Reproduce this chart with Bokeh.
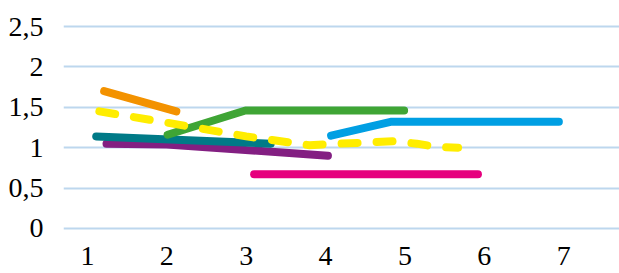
from bokeh.plotting import figure
from bokeh.models import Range1d, FixedTicker, CustomJSTickFormatter
from bokeh.embed import file_html
from bokeh.resources import INLINE

# data
x_ticks = [1, 2, 3, 4, 5, 6, 7]
y_ticks = [0, 0.5, 1, 1.5, 2, 2.5]

purple_x = [1.24, 2.0, 4.03]
purple_y = [1.05, 1.04, 0.90]
teal_x = [1.11, 3.31]
teal_y = [1.14, 1.05]
green_x = [2.01, 2.99, 4.99]
green_y = [1.16, 1.46, 1.46]
orange_x = [1.21, 2.12]
orange_y = [1.70, 1.45]
pink_x = [3.10, 5.92]
pink_y = [0.67, 0.67]
blue_x = [4.07, 4.82, 6.94]
blue_y = [1.15, 1.32, 1.32]
yellow_x = [1.15, 2.0, 3.0, 3.8, 4.14, 4.47, 4.85, 5.15, 5.40, 5.67]
yellow_y = [1.45, 1.31, 1.14, 1.03, 1.05, 1.06, 1.08, 1.05, 1.01, 1.00]

p = figure(width=619, height=273, output_backend="svg", toolbar_location=None,
           x_range=Range1d(0.698, 7.704), y_range=Range1d(-0.05, 2.55),
           min_border_left=63, min_border_right=0, min_border_top=22, min_border_bottom=41)
p.outline_line_color = None
p.background_fill_color = "white"
p.border_fill_color = "white"

p.xgrid.grid_line_color = None
p.ygrid.grid_line_color = "#BDD7EE"
p.ygrid.grid_line_width = 2

for ax in (p.xaxis[0], p.yaxis[0]):
    ax.axis_line_color = None
    ax.major_tick_line_color = None
    ax.minor_tick_line_color = None
    ax.major_label_text_font = "Liberation Serif"
    ax.major_label_text_font_size = "28px"
    ax.major_label_text_color = "#000000"

p.xaxis.ticker = FixedTicker(ticks=x_ticks)
p.yaxis.ticker = FixedTicker(ticks=y_ticks)
p.yaxis.formatter = CustomJSTickFormatter(code="return tick.toString().replace('.', ',');")
p.xaxis.major_label_standoff = 8
p.yaxis.major_label_standoff = 14

kw = dict(line_width=8, line_cap="round", line_join="round")
p.line(purple_x, purple_y, line_color="#831F82", **kw)
p.line(teal_x, teal_y, line_color="#007A87", **kw)
p.line(green_x, green_y, line_color="#3FA535", **kw)
p.line(orange_x, orange_y, line_color="#F39200", **kw)
p.line(pink_x, pink_y, line_color="#E6007E", **kw)
p.line(blue_x, blue_y, line_color="#009FE3", **kw)
p.line(yellow_x, yellow_y, line_color="#FFED00", line_dash="16 19", **kw)

open("out.html", "w").write(file_html(p, INLINE))
